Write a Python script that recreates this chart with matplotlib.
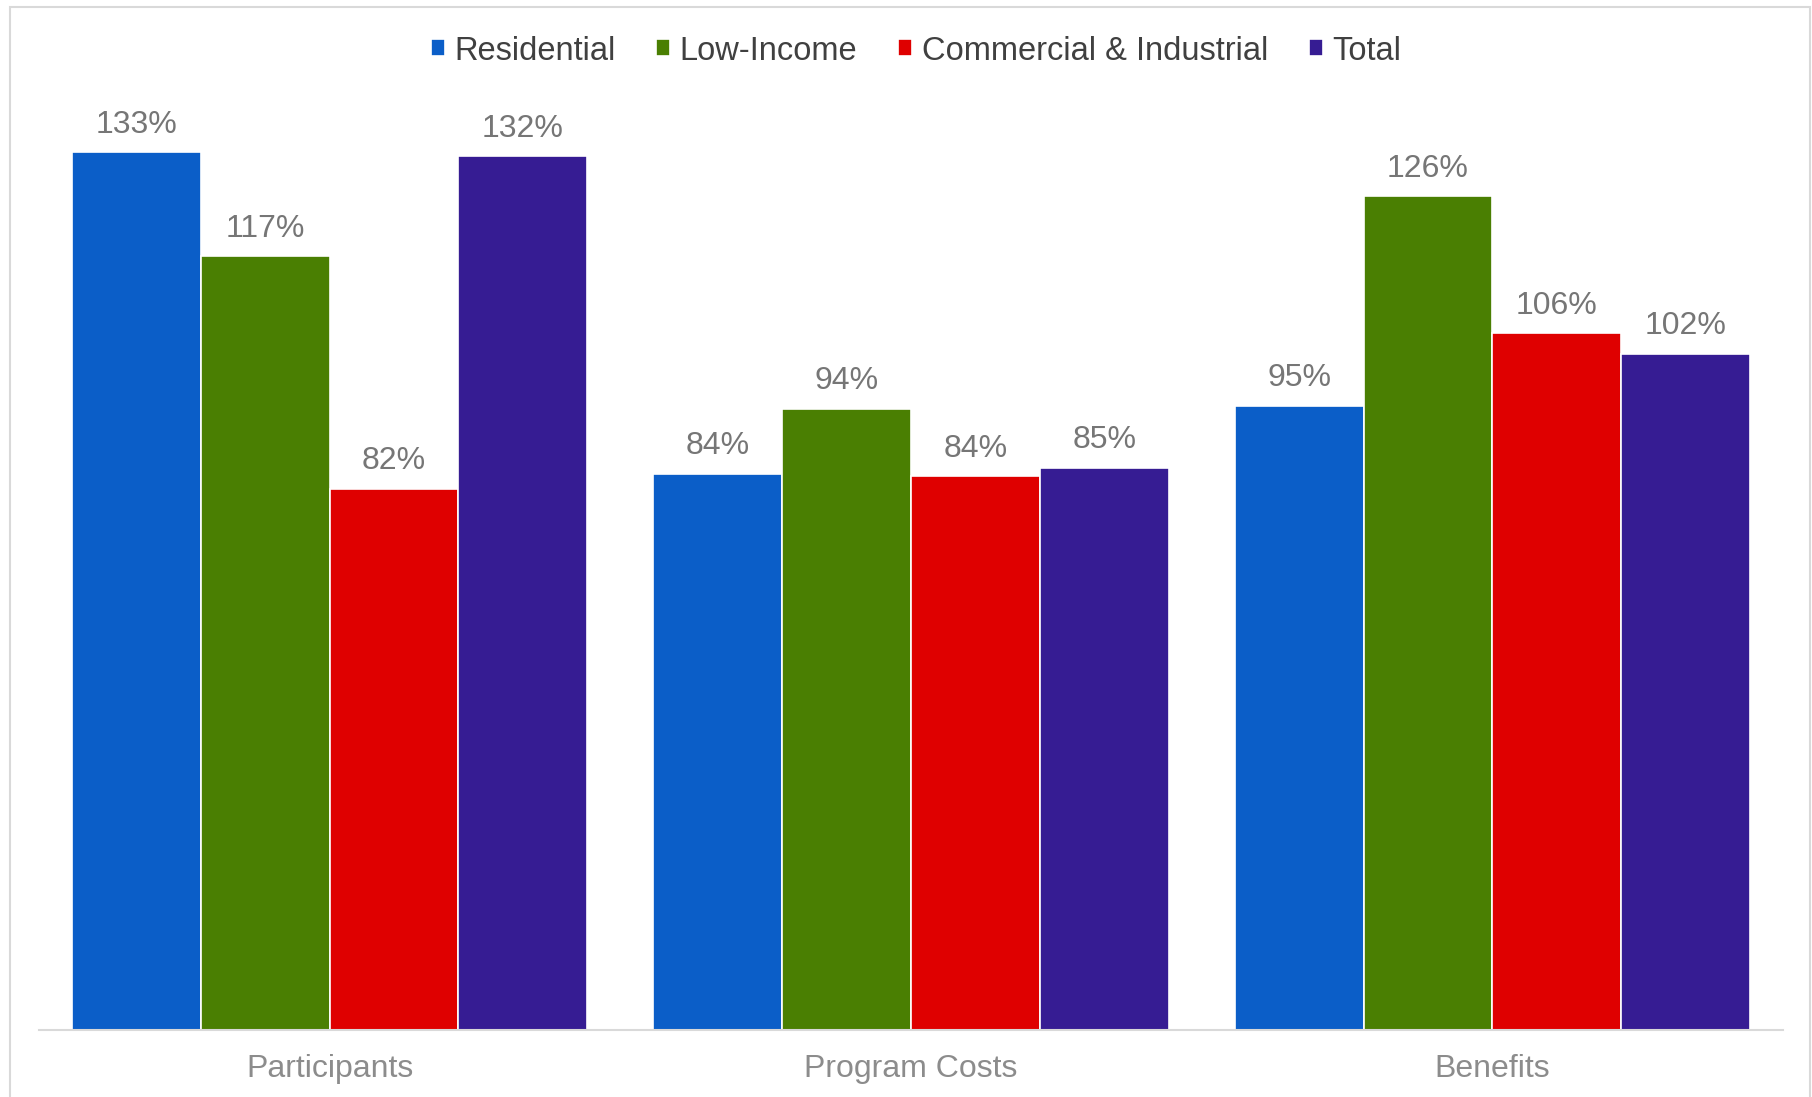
import numpy as np
import matplotlib
matplotlib.use("Agg")
import matplotlib.pyplot as plt
from matplotlib.patches import Rectangle

plt.rcParams["font.family"] = ["Liberation Sans", "DejaVu Sans"]

categories = ["Participants", "Program Costs", "Benefits"]
series = ["Residential", "Low-Income", "Commercial & Industrial", "Total"]
residential = [133.0, 84.3, 94.6]
low_income = [117.2, 94.1, 126.3]
commercial = [82.0, 83.9, 105.6]
total = [132.4, 85.2, 102.5]
colors = ["#0b5ec8", "#4a7f02", "#df0000", "#361c93"]

W, H = 1812, 1097
fig = plt.figure(figsize=(W / 100, H / 100), dpi=100)
# axes placed in pixel terms: x 39..1783, baseline at 1030, top at 106
ax = fig.add_axes([39 / W, (H - 1030) / H, 1744 / W, 924 / H])

# light grey chart border
fig.patches.append(Rectangle((10 / W, -0.01), 1800 / W, 1 - 7 / H + 0.01,
                             transform=fig.transFigure, fill=False,
                             edgecolor="#d9d9d9", linewidth=1.5))

x = np.arange(len(categories))
bw = 0.2216
allvals = [residential, low_income, commercial, total]
for i, (vals, name, c) in enumerate(zip(allvals, series, colors)):
    pos = x + (i - 1.5) * bw
    bars = ax.bar(pos, vals, bw, color=c, edgecolor="white", linewidth=1.2, label=name)
    for b, v in zip(bars, vals):
        ax.annotate(f"{v:.0f}%", (b.get_x() + b.get_width() / 2, v),
                    xytext=(0, 14), textcoords="offset points",
                    ha="center", va="baseline", fontsize=23, color="#767676")

ax.set_xlim(-0.5, 2.5)
ax.set_ylim(0, 140)
ax.set_xticks(x)
ax.set_xticklabels(categories, fontsize=23, color="#8c8c8c")
ax.tick_params(axis="x", length=0, pad=17)
ax.set_yticks([])
for s in ["top", "right", "left"]:
    ax.spines[s].set_visible(False)
ax.spines["bottom"].set_color("#d9d9d9")
ax.spines["bottom"].set_linewidth(1.5)

fig.legend(loc="center", bbox_to_anchor=(916 / W, 1 - 51 / H), ncol=4, frameon=False,
           fontsize=23.5, labelcolor="#404040", handlelength=0.42, handleheight=0.42,
           handletextpad=0.3, columnspacing=1.25)

fig.savefig("out.png", dpi=100, facecolor="white")
